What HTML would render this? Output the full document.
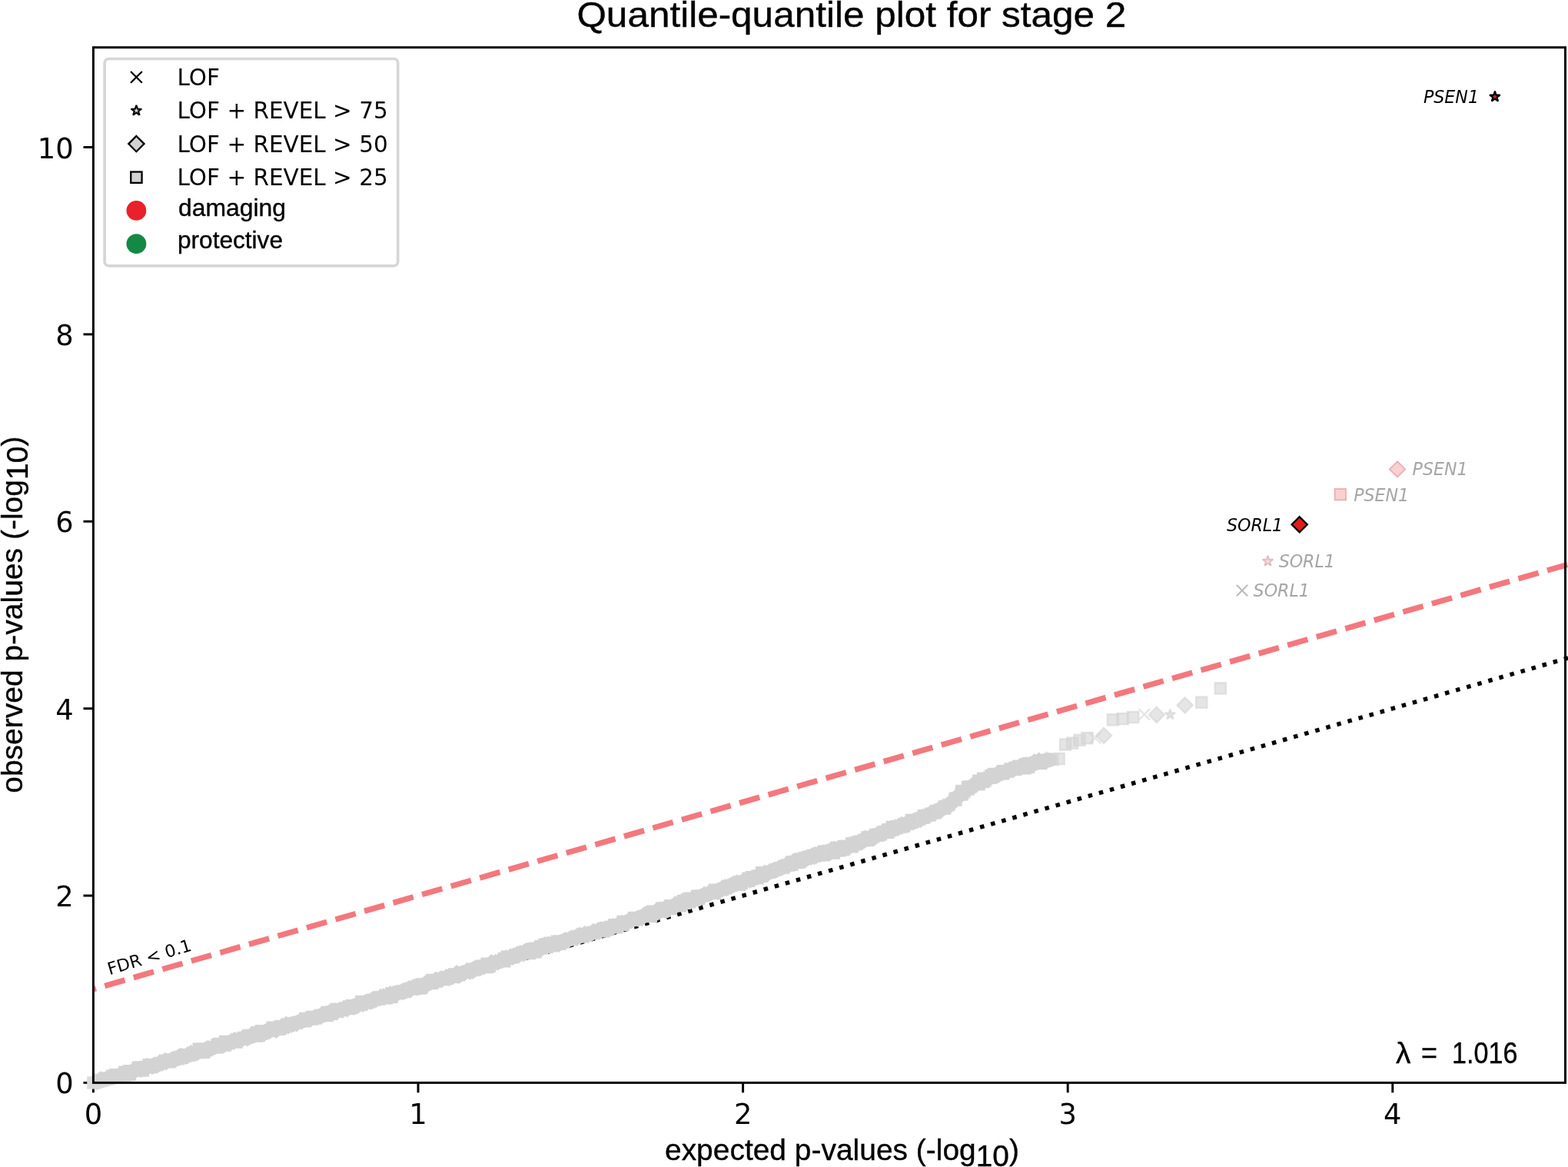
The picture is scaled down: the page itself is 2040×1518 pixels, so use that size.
<!DOCTYPE html>
<html lang="en"><head><meta charset="utf-8"><title>Quantile-quantile plot for stage 2</title>
<style>html,body{margin:0;padding:0;background:#fff;overflow:hidden}svg{display:block}</style></head>
<body>
<svg width="2040" height="1518" viewBox="0 0 2040 1518">
<rect width="2040" height="1518" fill="#fff"/>
<defs><clipPath id="axclip"><rect x="121.40" y="61.70" width="1915.10" height="1346.70"/></clipPath><clipPath id="lnclip"><rect x="121.40" y="61.70" width="1918.60" height="1346.70"/></clipPath></defs>
<line x1="121.40" y1="1408.4" x2="121.40" y2="1421.30" stroke="#000" stroke-width="2.95"/>
<text x="121.40" y="1461.5" font-family="'DejaVu Sans', 'Liberation Sans', sans-serif" font-size="36.85" text-anchor="middle">0</text>
<line x1="544.00" y1="1408.4" x2="544.00" y2="1421.30" stroke="#000" stroke-width="2.95"/>
<text x="544.00" y="1461.5" font-family="'DejaVu Sans', 'Liberation Sans', sans-serif" font-size="36.85" text-anchor="middle">1</text>
<line x1="966.60" y1="1408.4" x2="966.60" y2="1421.30" stroke="#000" stroke-width="2.95"/>
<text x="966.60" y="1461.5" font-family="'DejaVu Sans', 'Liberation Sans', sans-serif" font-size="36.85" text-anchor="middle">2</text>
<line x1="1389.20" y1="1408.4" x2="1389.20" y2="1421.30" stroke="#000" stroke-width="2.95"/>
<text x="1389.20" y="1461.5" font-family="'DejaVu Sans', 'Liberation Sans', sans-serif" font-size="36.85" text-anchor="middle">3</text>
<line x1="1811.80" y1="1408.4" x2="1811.80" y2="1421.30" stroke="#000" stroke-width="2.95"/>
<text x="1811.80" y="1461.5" font-family="'DejaVu Sans', 'Liberation Sans', sans-serif" font-size="36.85" text-anchor="middle">4</text>
<line x1="121.4" y1="1408.40" x2="108.50" y2="1408.40" stroke="#000" stroke-width="2.95"/>
<text x="95.6" y="1422.40" font-family="'DejaVu Sans', 'Liberation Sans', sans-serif" font-size="36.85" text-anchor="end">0</text>
<line x1="121.4" y1="1165.02" x2="108.50" y2="1165.02" stroke="#000" stroke-width="2.95"/>
<text x="95.6" y="1179.02" font-family="'DejaVu Sans', 'Liberation Sans', sans-serif" font-size="36.85" text-anchor="end">2</text>
<line x1="121.4" y1="921.64" x2="108.50" y2="921.64" stroke="#000" stroke-width="2.95"/>
<text x="95.6" y="935.64" font-family="'DejaVu Sans', 'Liberation Sans', sans-serif" font-size="36.85" text-anchor="end">4</text>
<line x1="121.4" y1="678.26" x2="108.50" y2="678.26" stroke="#000" stroke-width="2.95"/>
<text x="95.6" y="692.26" font-family="'DejaVu Sans', 'Liberation Sans', sans-serif" font-size="36.85" text-anchor="end">6</text>
<line x1="121.4" y1="434.88" x2="108.50" y2="434.88" stroke="#000" stroke-width="2.95"/>
<text x="95.6" y="448.88" font-family="'DejaVu Sans', 'Liberation Sans', sans-serif" font-size="36.85" text-anchor="end">8</text>
<line x1="121.4" y1="191.50" x2="108.50" y2="191.50" stroke="#000" stroke-width="2.95"/>
<text x="95.6" y="205.50" font-family="'DejaVu Sans', 'Liberation Sans', sans-serif" font-size="36.85" text-anchor="end">10</text>
<line x1="121.40" y1="1408.40" x2="2042.50" y2="855.21" stroke="#000" stroke-width="5.525" stroke-dasharray="5.525 9.116" clip-path="url(#lnclip)"/>
<line x1="121.40" y1="1286.71" x2="2042.50" y2="733.52" stroke="#f3787e" stroke-width="7.37" stroke-dasharray="27.27 11.79" stroke-dashoffset="23.6" clip-path="url(#lnclip)"/>
<clipPath id="outclip"><path clip-rule="evenodd" d="M0 0H2040V1518H0Z M121.4 61.7H2036.5V1408.4H121.4Z"/></clipPath>
<g clip-path="url(#outclip)"><path d="M121.4 1408.4 L200.0 1385.6 L350.0 1340.8 L500.0 1296.8 L650.0 1250.6 L674.0 1241.5 L740.0 1222.0 L800.0 1204.6 L880.0 1177.0 L950.0 1152.7 L1000.0 1135.0 L1050.0 1115.6 L1100.0 1102.5 L1150.0 1082.7 L1200.0 1063.7 L1222.0 1054.0 L1234.0 1047.7 L1250.0 1032.7 L1262.0 1024.0 L1275.0 1017.5 L1300.0 1006.2 L1324.0 999.0 L1350.0 991.4 L1366.0 988.5" fill="none" stroke="#dcdcdc" stroke-width="20" stroke-linejoin="round" stroke-linecap="butt"/><rect x="113.2" y="1400.2" width="16.4" height="16.4" fill="#dcdcdc"/></g>
<path d="M121.4 1408.4 L200.0 1385.6 L350.0 1340.8 L500.0 1296.8 L650.0 1250.6 L674.0 1241.5 L740.0 1222.0 L800.0 1204.6 L880.0 1177.0 L950.0 1152.7 L1000.0 1135.0 L1050.0 1115.6 L1100.0 1102.5 L1150.0 1082.7 L1200.0 1063.7 L1222.0 1054.0 L1234.0 1047.7 L1250.0 1032.7 L1262.0 1024.0 L1275.0 1017.5 L1300.0 1006.2 L1324.0 999.0 L1350.0 991.4 L1366.0 988.5" fill="none" stroke="#d3d3d3" stroke-width="18.6" stroke-linejoin="round" stroke-linecap="round" clip-path="url(#axclip)"/>
<path d="M124.0 1395.9l11.2 11.2l-11.2 11.2l-11.2 -11.2zM127.3 1396.1l10.8 10.8l-10.8 10.8l-10.8 -10.8zM131.3 1393.1l11.9 11.9l-11.9 11.9l-11.9 -11.9zM134.2 1393.9l11.5 11.5l-11.5 11.5l-11.5 -11.5zM127.9 1394.6h16.6v19.7h-16.6zM139.9 1391.8l11.6 11.6l-11.6 11.6l-11.6 -11.6zM143.2 1389.9l11.8 11.8l-11.8 11.8l-11.8 -11.8zM137.8 1391.6h16.6v20.2h-16.6zM142.1 1390.0h16.6v19.4h-16.6zM154.7 1388.6l10.9 10.9l-10.9 10.9l-10.9 -10.9zM156.8 1387.7l11.5 11.5l-11.5 11.5l-11.5 -11.5zM159.2 1386.3l11.2 11.2l-11.2 11.2l-11.2 -11.2zM154.2 1386.6h16.6v20.1h-16.6zM158.5 1386.0h16.6v20.1h-16.6zM160.5 1385.1h16.6v20.7h-16.6zM172.0 1382.5l11.7 11.7l-11.7 11.7l-11.7 -11.7zM175.2 1380.6l11.7 11.7l-11.7 11.7l-11.7 -11.7zM171.4 1380.9h16.6v19.3h-16.6zM173.3 1380.2h16.6v20.6h-16.6zM183.2 1379.1l11.6 11.6l-11.6 11.6l-11.6 -11.6zM177.4 1380.8h16.6v19.6h-16.6zM190.2 1376.6l11.5 11.5l-11.5 11.5l-11.5 -11.5zM191.8 1375.8l11.5 11.5l-11.5 11.5l-11.5 -11.5zM185.5 1376.9h16.6v19.1h-16.6zM198.2 1375.7l11.3 11.3l-11.3 11.3l-11.3 -11.3zM201.2 1374.1l11.4 11.4l-11.4 11.4l-11.4 -11.4zM204.6 1373.9l11.3 11.3l-11.3 11.3l-11.3 -11.3zM208.2 1370.7l11.9 11.9l-11.9 11.9l-11.9 -11.9zM211.3 1371.1l11.3 11.3l-11.3 11.3l-11.3 -11.3zM214.6 1368.7l11.5 11.5l-11.5 11.5l-11.5 -11.5zM216.2 1369.5l11.5 11.5l-11.5 11.5l-11.5 -11.5zM210.5 1371.3h16.6v18.3h-16.6zM212.2 1370.4h16.6v18.9h-16.6zM223.3 1367.6l11.2 11.2l-11.2 11.2l-11.2 -11.2zM225.8 1366.5l11.1 11.1l-11.1 11.1l-11.1 -11.1zM228.4 1366.3l11.4 11.4l-11.4 11.4l-11.4 -11.4zM232.1 1363.9l11.7 11.7l-11.7 11.7l-11.7 -11.7zM234.3 1363.1l11.6 11.6l-11.6 11.6l-11.6 -11.6zM236.1 1362.7l11.7 11.7l-11.7 11.7l-11.7 -11.7zM239.0 1363.6l11.2 11.2l-11.2 11.2l-11.2 -11.2zM242.4 1362.7l11.0 11.0l-11.0 11.0l-11.0 -11.0zM244.3 1360.8l11.7 11.7l-11.7 11.7l-11.7 -11.7zM248.3 1358.8l11.7 11.7l-11.7 11.7l-11.7 -11.7zM251.7 1359.9l10.9 10.9l-10.9 10.9l-10.9 -10.9zM254.1 1358.9l11.2 11.2l-11.2 11.2l-11.2 -11.2zM256.8 1356.6l11.8 11.8l-11.8 11.8l-11.8 -11.8zM250.5 1356.6h16.6v20.7h-16.6zM255.0 1356.2h16.6v20.8h-16.6zM257.1 1356.6h16.6v20.1h-16.6zM268.5 1353.6l11.1 11.1l-11.1 11.1l-11.1 -11.1zM270.2 1353.1l11.7 11.7l-11.7 11.7l-11.7 -11.7zM271.8 1353.2l11.8 11.8l-11.8 11.8l-11.8 -11.8zM276.0 1353.0l10.8 10.8l-10.8 10.8l-10.8 -10.8zM279.8 1349.5l11.5 11.5l-11.5 11.5l-11.5 -11.5zM274.5 1350.7h16.6v19.9h-16.6zM277.0 1349.8h16.6v19.5h-16.6zM289.2 1347.2l11.4 11.4l-11.4 11.4l-11.4 -11.4zM284.8 1346.7h16.6v20.8h-16.6zM297.1 1345.8l11.5 11.5l-11.5 11.5l-11.5 -11.5zM301.2 1343.3l11.1 11.1l-11.1 11.1l-11.1 -11.1zM304.2 1342.6l11.7 11.7l-11.7 11.7l-11.7 -11.7zM305.7 1342.1l10.9 10.9l-10.9 10.9l-10.9 -10.9zM299.1 1345.3h16.6v18.4h-16.6zM310.5 1341.0l11.2 11.2l-11.2 11.2l-11.2 -11.2zM313.9 1340.8l11.0 11.0l-11.0 11.0l-11.0 -11.0zM316.4 1338.4l11.6 11.6l-11.6 11.6l-11.6 -11.6zM319.0 1337.9l11.2 11.2l-11.2 11.2l-11.2 -11.2zM322.3 1338.0l11.7 11.7l-11.7 11.7l-11.7 -11.7zM325.7 1336.6l11.3 11.3l-11.3 11.3l-11.3 -11.3zM329.3 1335.5l11.3 11.3l-11.3 11.3l-11.3 -11.3zM331.5 1335.5l10.9 10.9l-10.9 10.9l-10.9 -10.9zM326.0 1334.9h16.6v20.8h-16.6zM328.6 1336.1h16.6v18.9h-16.6zM331.5 1333.0h16.6v20.1h-16.6zM344.0 1331.6l11.6 11.6l-11.6 11.6l-11.6 -11.6zM347.2 1330.0l10.8 10.8l-10.8 10.8l-10.8 -10.8zM349.1 1330.8l10.9 10.9l-10.9 10.9l-10.9 -10.9zM350.9 1330.5l10.8 10.8l-10.8 10.8l-10.8 -10.8zM346.6 1328.5h16.6v20.1h-16.6zM359.0 1327.5l11.7 11.7l-11.7 11.7l-11.7 -11.7zM360.6 1326.7l11.6 11.6l-11.6 11.6l-11.6 -11.6zM354.1 1328.5h16.6v18.4h-16.6zM356.6 1327.1h16.6v18.9h-16.6zM366.9 1323.7l11.6 11.6l-11.6 11.6l-11.6 -11.6zM369.6 1323.6l11.2 11.2l-11.2 11.2l-11.2 -11.2zM372.3 1321.5l11.9 11.9l-11.9 11.9l-11.9 -11.9zM375.1 1322.4l11.6 11.6l-11.6 11.6l-11.6 -11.6zM378.8 1321.4l11.3 11.3l-11.3 11.3l-11.3 -11.3zM382.3 1321.3l10.9 10.9l-10.9 10.9l-10.9 -10.9zM386.0 1319.9l11.3 11.3l-11.3 11.3l-11.3 -11.3zM389.7 1317.5l11.0 11.0l-11.0 11.0l-11.0 -11.0zM392.9 1316.2l11.6 11.6l-11.6 11.6l-11.6 -11.6zM389.0 1316.8h16.6v19.4h-16.6zM401.3 1314.9l11.0 11.0l-11.0 11.0l-11.0 -11.0zM402.9 1314.2l11.0 11.0l-11.0 11.0l-11.0 -11.0zM397.2 1314.8h16.6v18.6h-16.6zM410.0 1311.9l11.3 11.3l-11.3 11.3l-11.3 -11.3zM414.0 1311.4l11.3 11.3l-11.3 11.3l-11.3 -11.3zM417.6 1310.1l11.6 11.6l-11.6 11.6l-11.6 -11.6zM422.0 1308.5l11.1 11.1l-11.1 11.1l-11.1 -11.1zM417.4 1308.7h16.6v20.6h-16.6zM427.9 1306.3l11.0 11.0l-11.0 11.0l-11.0 -11.0zM423.2 1308.2h16.6v18.9h-16.6zM435.6 1303.7l11.6 11.6l-11.6 11.6l-11.6 -11.6zM429.1 1304.8h16.6v19.0h-16.6zM439.9 1303.8l10.8 10.8l-10.8 10.8l-10.8 -10.8zM442.4 1302.5l11.0 11.0l-11.0 11.0l-11.0 -11.0zM445.7 1302.3l11.4 11.4l-11.4 11.4l-11.4 -11.4zM447.5 1300.8l10.9 10.9l-10.9 10.9l-10.9 -10.9zM451.7 1300.0l11.8 11.8l-11.8 11.8l-11.8 -11.8zM446.0 1301.3h16.6v19.0h-16.6zM449.6 1300.0h16.6v18.9h-16.6zM461.6 1297.7l11.4 11.4l-11.4 11.4l-11.4 -11.4zM463.5 1295.9l11.6 11.6l-11.6 11.6l-11.6 -11.6zM467.0 1295.1l11.5 11.5l-11.5 11.5l-11.5 -11.5zM462.1 1294.8h16.6v20.0h-16.6zM472.3 1294.7l11.2 11.2l-11.2 11.2l-11.2 -11.2zM475.9 1292.6l11.5 11.5l-11.5 11.5l-11.5 -11.5zM478.8 1291.7l10.9 10.9l-10.9 10.9l-10.9 -10.9zM482.4 1290.9l11.6 11.6l-11.6 11.6l-11.6 -11.6zM485.0 1288.9l11.8 11.8l-11.8 11.8l-11.8 -11.8zM486.6 1289.1l11.6 11.6l-11.6 11.6l-11.6 -11.6zM489.2 1288.2l11.4 11.4l-11.4 11.4l-11.4 -11.4zM484.7 1289.3h16.6v18.5h-16.6zM495.3 1285.6l11.7 11.7l-11.7 11.7l-11.7 -11.7zM499.0 1285.1l11.3 11.3l-11.3 11.3l-11.3 -11.3zM494.4 1286.7h16.6v19.9h-16.6zM504.7 1283.8l11.4 11.4l-11.4 11.4l-11.4 -11.4zM507.9 1282.1l11.7 11.7l-11.7 11.7l-11.7 -11.7zM501.2 1284.1h16.6v20.9h-16.6zM512.1 1281.7l11.5 11.5l-11.5 11.5l-11.5 -11.5zM516.6 1280.4l11.7 11.7l-11.7 11.7l-11.7 -11.7zM511.2 1281.9h16.6v18.2h-16.6zM523.3 1278.6l11.4 11.4l-11.4 11.4l-11.4 -11.4zM526.2 1277.2l10.8 10.8l-10.8 10.8l-10.8 -10.8zM529.2 1276.7l11.4 11.4l-11.4 11.4l-11.4 -11.4zM533.6 1275.6l11.7 11.7l-11.7 11.7l-11.7 -11.7zM537.0 1273.4l11.1 11.1l-11.1 11.1l-11.1 -11.1zM530.4 1275.4h16.6v19.1h-16.6zM542.8 1272.3l11.7 11.7l-11.7 11.7l-11.7 -11.7zM537.8 1273.4h16.6v20.3h-16.6zM540.3 1272.2h16.6v20.6h-16.6zM551.4 1270.6l10.9 10.9l-10.9 10.9l-10.9 -10.9zM553.1 1268.5l11.0 11.0l-11.0 11.0l-11.0 -11.0zM556.1 1268.7l11.3 11.3l-11.3 11.3l-11.3 -11.3zM559.5 1266.4l11.6 11.6l-11.6 11.6l-11.6 -11.6zM553.9 1266.8h16.6v20.2h-16.6zM564.8 1265.1l11.5 11.5l-11.5 11.5l-11.5 -11.5zM567.0 1263.4l11.7 11.7l-11.7 11.7l-11.7 -11.7zM568.9 1264.5l11.0 11.0l-11.0 11.0l-11.0 -11.0zM570.9 1263.9l10.8 10.8l-10.8 10.8l-10.8 -10.8zM572.8 1262.8l10.9 10.9l-10.9 10.9l-10.9 -10.9zM574.3 1262.2l11.6 11.6l-11.6 11.6l-11.6 -11.6zM576.0 1262.4l10.8 10.8l-10.8 10.8l-10.8 -10.8zM580.4 1260.1l11.3 11.3l-11.3 11.3l-11.3 -11.3zM582.4 1260.8l10.9 10.9l-10.9 10.9l-10.9 -10.9zM584.0 1259.8l11.7 11.7l-11.7 11.7l-11.7 -11.7zM586.9 1259.9l11.1 11.1l-11.1 11.1l-11.1 -11.1zM589.2 1258.8l11.2 11.2l-11.2 11.2l-11.2 -11.2zM582.7 1259.2h16.6v19.9h-16.6zM592.5 1256.3l11.0 11.0l-11.0 11.0l-11.0 -11.0zM594.1 1255.0l11.8 11.8l-11.8 11.8l-11.8 -11.8zM596.2 1256.5l11.7 11.7l-11.7 11.7l-11.7 -11.7zM600.5 1255.7l11.1 11.1l-11.1 11.1l-11.1 -11.1zM603.8 1254.7l11.1 11.1l-11.1 11.1l-11.1 -11.1zM607.8 1251.6l11.2 11.2l-11.2 11.2l-11.2 -11.2zM611.4 1251.8l11.6 11.6l-11.6 11.6l-11.6 -11.6zM615.1 1250.3l11.8 11.8l-11.8 11.8l-11.8 -11.8zM617.7 1248.7l11.7 11.7l-11.7 11.7l-11.7 -11.7zM620.6 1247.5l11.6 11.6l-11.6 11.6l-11.6 -11.6zM623.9 1247.8l11.3 11.3l-11.3 11.3l-11.3 -11.3zM625.9 1247.2l11.3 11.3l-11.3 11.3l-11.3 -11.3zM629.7 1246.2l11.1 11.1l-11.1 11.1l-11.1 -11.1zM625.4 1245.6h16.6v20.6h-16.6zM628.3 1246.0h16.6v19.1h-16.6zM639.2 1241.1l11.9 11.9l-11.9 11.9l-11.9 -11.9zM641.0 1242.6l10.9 10.9l-10.9 10.9l-10.9 -10.9zM644.4 1240.8l11.0 11.0l-11.0 11.0l-11.0 -11.0zM647.9 1240.4l11.1 11.1l-11.1 11.1l-11.1 -11.1zM652.3 1237.9l11.3 11.3l-11.3 11.3l-11.3 -11.3zM647.8 1238.7h16.6v19.7h-16.6zM658.2 1235.1l11.7 11.7l-11.7 11.7l-11.7 -11.7zM651.7 1236.4h16.6v18.8h-16.6zM664.2 1233.3l11.0 11.0l-11.0 11.0l-11.0 -11.0zM668.2 1232.3l11.6 11.6l-11.6 11.6l-11.6 -11.6zM672.3 1230.5l11.3 11.3l-11.3 11.3l-11.3 -11.3zM674.1 1230.5l11.7 11.7l-11.7 11.7l-11.7 -11.7zM676.2 1229.3l11.6 11.6l-11.6 11.6l-11.6 -11.6zM678.0 1229.1l10.9 10.9l-10.9 10.9l-10.9 -10.9zM681.1 1228.4l11.5 11.5l-11.5 11.5l-11.5 -11.5zM684.5 1225.9l11.9 11.9l-11.9 11.9l-11.9 -11.9zM687.0 1226.5l11.0 11.0l-11.0 11.0l-11.0 -11.0zM680.7 1227.7h16.6v20.6h-16.6zM685.1 1226.2h16.6v19.7h-16.6zM687.9 1225.5h16.6v20.9h-16.6zM699.1 1222.8l11.9 11.9l-11.9 11.9l-11.9 -11.9zM695.1 1223.0h16.6v18.7h-16.6zM705.2 1221.4l11.4 11.4l-11.4 11.4l-11.4 -11.4zM700.3 1220.8h16.6v19.0h-16.6zM703.1 1220.0h16.6v20.3h-16.6zM713.7 1217.6l11.3 11.3l-11.3 11.3l-11.3 -11.3zM707.2 1218.4h16.6v20.2h-16.6zM711.6 1219.4h16.6v19.2h-16.6zM721.9 1215.6l11.4 11.4l-11.4 11.4l-11.4 -11.4zM716.7 1216.6h16.6v19.0h-16.6zM719.6 1216.9h16.6v19.0h-16.6zM730.1 1214.6l10.9 10.9l-10.9 10.9l-10.9 -10.9zM733.2 1213.2l10.9 10.9l-10.9 10.9l-10.9 -10.9zM735.3 1212.1l11.9 11.9l-11.9 11.9l-11.9 -11.9zM739.2 1212.3l11.0 11.0l-11.0 11.0l-11.0 -11.0zM740.7 1210.8l10.9 10.9l-10.9 10.9l-10.9 -10.9zM743.9 1208.9l11.1 11.1l-11.1 11.1l-11.1 -11.1zM747.8 1208.7l10.8 10.8l-10.8 10.8l-10.8 -10.8zM750.6 1207.4l11.8 11.8l-11.8 11.8l-11.8 -11.8zM754.5 1205.6l11.6 11.6l-11.6 11.6l-11.6 -11.6zM750.1 1206.8h16.6v19.7h-16.6zM760.7 1203.8l11.5 11.5l-11.5 11.5l-11.5 -11.5zM764.9 1204.1l11.5 11.5l-11.5 11.5l-11.5 -11.5zM769.2 1203.0l11.3 11.3l-11.3 11.3l-11.3 -11.3zM772.2 1200.4l11.6 11.6l-11.6 11.6l-11.6 -11.6zM776.7 1200.3l11.2 11.2l-11.2 11.2l-11.2 -11.2zM779.6 1199.3l11.9 11.9l-11.9 11.9l-11.9 -11.9zM781.5 1198.3l11.3 11.3l-11.3 11.3l-11.3 -11.3zM777.3 1199.5h16.6v19.9h-16.6zM787.2 1197.1l11.3 11.3l-11.3 11.3l-11.3 -11.3zM781.2 1198.9h16.6v18.5h-16.6zM793.0 1194.6l11.8 11.8l-11.8 11.8l-11.8 -11.8zM797.4 1193.9l11.8 11.8l-11.8 11.8l-11.8 -11.8zM791.2 1195.0h16.6v19.1h-16.6zM793.5 1195.4h16.6v19.1h-16.6zM804.4 1191.5l11.1 11.1l-11.1 11.1l-11.1 -11.1zM808.9 1189.6l11.0 11.0l-11.0 11.0l-11.0 -11.0zM802.3 1190.7h16.6v20.5h-16.6zM814.0 1189.4l11.1 11.1l-11.1 11.1l-11.1 -11.1zM818.4 1186.0l11.3 11.3l-11.3 11.3l-11.3 -11.3zM820.7 1186.5l11.1 11.1l-11.1 11.1l-11.1 -11.1zM816.8 1185.8h16.6v18.7h-16.6zM829.6 1183.8l11.0 11.0l-11.0 11.0l-11.0 -11.0zM831.2 1183.4l11.0 11.0l-11.0 11.0l-11.0 -11.0zM835.2 1181.4l11.9 11.9l-11.9 11.9l-11.9 -11.9zM838.3 1179.9l11.2 11.2l-11.2 11.2l-11.2 -11.2zM842.8 1178.4l11.0 11.0l-11.0 11.0l-11.0 -11.0zM836.3 1179.7h16.6v18.4h-16.6zM838.4 1179.0h16.6v20.9h-16.6zM840.7 1177.6h16.6v19.6h-16.6zM852.6 1174.9l11.2 11.2l-11.2 11.2l-11.2 -11.2zM856.3 1174.5l11.3 11.3l-11.3 11.3l-11.3 -11.3zM859.4 1172.3l11.7 11.7l-11.7 11.7l-11.7 -11.7zM853.2 1173.3h16.6v20.6h-16.6zM855.3 1174.4h16.6v18.7h-16.6zM865.9 1169.3l11.9 11.9l-11.9 11.9l-11.9 -11.9zM868.6 1170.9l10.8 10.8l-10.8 10.8l-10.8 -10.8zM864.4 1170.1h16.6v20.1h-16.6zM875.8 1167.7l11.4 11.4l-11.4 11.4l-11.4 -11.4zM878.6 1165.6l11.2 11.2l-11.2 11.2l-11.2 -11.2zM881.6 1165.0l11.2 11.2l-11.2 11.2l-11.2 -11.2zM876.6 1166.0h16.6v20.6h-16.6zM880.6 1164.0h16.6v19.0h-16.6zM882.5 1163.7h16.6v19.2h-16.6zM885.9 1161.8h16.6v19.5h-16.6zM888.9 1160.6h16.6v21.0h-16.6zM900.2 1159.0l10.9 10.9l-10.9 10.9l-10.9 -10.9zM894.7 1160.6h16.6v18.4h-16.6zM898.8 1157.7h16.6v19.2h-16.6zM900.9 1157.3h16.6v19.4h-16.6zM913.3 1154.8l11.1 11.1l-11.1 11.1l-11.1 -11.1zM916.3 1152.6l11.5 11.5l-11.5 11.5l-11.5 -11.5zM920.5 1152.1l11.0 11.0l-11.0 11.0l-11.0 -11.0zM923.1 1151.4l10.9 10.9l-10.9 10.9l-10.9 -10.9zM925.5 1149.3l11.4 11.4l-11.4 11.4l-11.4 -11.4zM921.5 1149.5h16.6v20.5h-16.6zM933.8 1147.7l11.6 11.6l-11.6 11.6l-11.6 -11.6zM935.7 1147.2l11.3 11.3l-11.3 11.3l-11.3 -11.3zM939.9 1144.0l11.7 11.7l-11.7 11.7l-11.7 -11.7zM943.2 1143.0l11.2 11.2l-11.2 11.2l-11.2 -11.2zM944.7 1144.2l11.1 11.1l-11.1 11.1l-11.1 -11.1zM947.3 1142.2l11.5 11.5l-11.5 11.5l-11.5 -11.5zM950.8 1140.4l11.9 11.9l-11.9 11.9l-11.9 -11.9zM954.4 1138.6l11.6 11.6l-11.6 11.6l-11.6 -11.6zM958.9 1137.3l11.3 11.3l-11.3 11.3l-11.3 -11.3zM953.3 1139.9h16.6v19.1h-16.6zM956.1 1138.4h16.6v18.8h-16.6zM967.1 1134.9l10.8 10.8l-10.8 10.8l-10.8 -10.8zM971.4 1134.3l10.9 10.9l-10.9 10.9l-10.9 -10.9zM965.3 1134.4h16.6v19.7h-16.6zM975.9 1133.2l11.4 11.4l-11.4 11.4l-11.4 -11.4zM969.7 1133.0h16.6v18.6h-16.6zM981.1 1130.3l11.6 11.6l-11.6 11.6l-11.6 -11.6zM977.1 1131.6h16.6v18.8h-16.6zM987.0 1128.4l11.0 11.0l-11.0 11.0l-11.0 -11.0zM982.9 1127.1h16.6v20.8h-16.6zM993.0 1127.4l11.0 11.0l-11.0 11.0l-11.0 -11.0zM995.1 1124.5l11.2 11.2l-11.2 11.2l-11.2 -11.2zM999.1 1124.8l11.2 11.2l-11.2 11.2l-11.2 -11.2zM1001.8 1122.5l11.1 11.1l-11.1 11.1l-11.1 -11.1zM1005.4 1121.5l11.0 11.0l-11.0 11.0l-11.0 -11.0zM1008.2 1120.4l11.6 11.6l-11.6 11.6l-11.6 -11.6zM1010.3 1120.4l11.0 11.0l-11.0 11.0l-11.0 -11.0zM1014.1 1117.8l11.5 11.5l-11.5 11.5l-11.5 -11.5zM1017.5 1116.4l11.7 11.7l-11.7 11.7l-11.7 -11.7zM1021.6 1115.5l11.1 11.1l-11.1 11.1l-11.1 -11.1zM1025.8 1113.7l11.7 11.7l-11.7 11.7l-11.7 -11.7zM1021.9 1113.2h16.6v19.6h-16.6zM1032.3 1111.4l11.6 11.6l-11.6 11.6l-11.6 -11.6zM1035.5 1108.6l11.7 11.7l-11.7 11.7l-11.7 -11.7zM1030.1 1110.4h16.6v19.5h-16.6zM1033.1 1109.7h16.6v18.8h-16.6zM1043.2 1107.7l11.1 11.1l-11.1 11.1l-11.1 -11.1zM1047.4 1105.6l11.9 11.9l-11.9 11.9l-11.9 -11.9zM1051.4 1105.0l10.8 10.8l-10.8 10.8l-10.8 -10.8zM1054.9 1103.5l11.3 11.3l-11.3 11.3l-11.3 -11.3zM1058.1 1101.5l11.4 11.4l-11.4 11.4l-11.4 -11.4zM1060.8 1100.8l11.2 11.2l-11.2 11.2l-11.2 -11.2zM1064.5 1100.1l11.0 11.0l-11.0 11.0l-11.0 -11.0zM1067.2 1100.4l10.9 10.9l-10.9 10.9l-10.9 -10.9zM1070.1 1098.7l11.0 11.0l-11.0 11.0l-11.0 -11.0zM1063.6 1099.6h16.6v20.6h-16.6zM1075.0 1097.7l11.1 11.1l-11.1 11.1l-11.1 -11.1zM1077.4 1097.5l11.8 11.8l-11.8 11.8l-11.8 -11.8zM1080.3 1095.6l11.9 11.9l-11.9 11.9l-11.9 -11.9zM1082.4 1096.2l11.0 11.0l-11.0 11.0l-11.0 -11.0zM1076.3 1097.5h16.6v20.3h-16.6zM1080.5 1094.4h16.6v20.3h-16.6zM1082.7 1095.2h16.6v19.1h-16.6zM1094.7 1092.0l11.1 11.1l-11.1 11.1l-11.1 -11.1zM1089.5 1092.7h16.6v20.3h-16.6zM1100.8 1090.9l11.7 11.7l-11.7 11.7l-11.7 -11.7zM1103.1 1090.2l11.2 11.2l-11.2 11.2l-11.2 -11.2zM1104.7 1088.9l11.0 11.0l-11.0 11.0l-11.0 -11.0zM1100.2 1088.9h16.6v20.6h-16.6zM1112.2 1086.0l11.4 11.4l-11.4 11.4l-11.4 -11.4zM1115.9 1086.2l11.0 11.0l-11.0 11.0l-11.0 -11.0zM1120.3 1083.4l11.6 11.6l-11.6 11.6l-11.6 -11.6zM1122.3 1082.3l11.5 11.5l-11.5 11.5l-11.5 -11.5zM1124.3 1080.3l11.8 11.8l-11.8 11.8l-11.8 -11.8zM1126.2 1079.4l11.7 11.7l-11.7 11.7l-11.7 -11.7zM1120.5 1081.0h16.6v19.9h-16.6zM1131.1 1079.5l11.1 11.1l-11.1 11.1l-11.1 -11.1zM1134.7 1076.7l11.4 11.4l-11.4 11.4l-11.4 -11.4zM1137.2 1077.1l11.7 11.7l-11.7 11.7l-11.7 -11.7zM1139.9 1075.8l11.5 11.5l-11.5 11.5l-11.5 -11.5zM1142.4 1073.4l11.7 11.7l-11.7 11.7l-11.7 -11.7zM1144.9 1073.2l10.9 10.9l-10.9 10.9l-10.9 -10.9zM1147.3 1072.5l11.5 11.5l-11.5 11.5l-11.5 -11.5zM1149.7 1070.6l11.2 11.2l-11.2 11.2l-11.2 -11.2zM1151.8 1070.5l11.6 11.6l-11.6 11.6l-11.6 -11.6zM1146.8 1071.3h16.6v19.7h-16.6zM1157.9 1067.6l11.7 11.7l-11.7 11.7l-11.7 -11.7zM1152.6 1067.8h16.6v19.8h-16.6zM1164.3 1065.2l11.9 11.9l-11.9 11.9l-11.9 -11.9zM1158.0 1067.0h16.6v18.5h-16.6zM1169.3 1063.5l11.8 11.8l-11.8 11.8l-11.8 -11.8zM1172.0 1062.5l10.8 10.8l-10.8 10.8l-10.8 -10.8zM1167.3 1064.6h16.6v18.3h-16.6zM1179.2 1060.1l11.1 11.1l-11.1 11.1l-11.1 -11.1zM1181.6 1059.0l10.9 10.9l-10.9 10.9l-10.9 -10.9zM1177.7 1058.7h16.6v18.7h-16.6zM1187.7 1057.3l11.6 11.6l-11.6 11.6l-11.6 -11.6zM1190.7 1056.0l11.5 11.5l-11.5 11.5l-11.5 -11.5zM1193.8 1056.2l10.9 10.9l-10.9 10.9l-10.9 -10.9zM1197.3 1054.1l11.6 11.6l-11.6 11.6l-11.6 -11.6zM1200.5 1051.8l11.5 11.5l-11.5 11.5l-11.5 -11.5zM1193.8 1052.9h16.6v18.9h-16.6zM1205.0 1049.4l11.5 11.5l-11.5 11.5l-11.5 -11.5zM1208.7 1049.8l11.0 11.0l-11.0 11.0l-11.0 -11.0zM1211.2 1046.3l11.4 11.4l-11.4 11.4l-11.4 -11.4zM1214.6 1045.8l10.9 10.9l-10.9 10.9l-10.9 -10.9zM1216.6 1044.6l11.8 11.8l-11.8 11.8l-11.8 -11.8zM1219.8 1043.8l10.8 10.8l-10.8 10.8l-10.8 -10.8zM1223.5 1042.2l11.6 11.6l-11.6 11.6l-11.6 -11.6zM1225.8 1040.4l11.0 11.0l-11.0 11.0l-11.0 -11.0zM1220.8 1041.3h16.6v18.5h-16.6zM1232.9 1036.9l11.4 11.4l-11.4 11.4l-11.4 -11.4zM1235.7 1033.9l11.5 11.5l-11.5 11.5l-11.5 -11.5zM1239.4 1031.8l11.8 11.8l-11.8 11.8l-11.8 -11.8zM1235.0 1030.2h16.6v18.6h-16.6zM1247.1 1024.8l11.5 11.5l-11.5 11.5l-11.5 -11.5zM1243.1 1020.8h16.6v20.7h-16.6zM1254.3 1017.1l11.7 11.7l-11.7 11.7l-11.7 -11.7zM1257.0 1015.4l11.8 11.8l-11.8 11.8l-11.8 -11.8zM1251.0 1015.4h16.6v19.1h-16.6zM1261.9 1014.2l10.9 10.9l-10.9 10.9l-10.9 -10.9zM1266.1 1009.6l11.8 11.8l-11.8 11.8l-11.8 -11.8zM1268.3 1010.6l11.1 11.1l-11.1 11.1l-11.1 -11.1zM1270.4 1008.6l11.2 11.2l-11.2 11.2l-11.2 -11.2zM1265.2 1007.4h16.6v20.8h-16.6zM1277.2 1006.1l11.1 11.1l-11.1 11.1l-11.1 -11.1zM1271.0 1004.4h16.6v20.7h-16.6zM1283.6 1002.5l11.3 11.3l-11.3 11.3l-11.3 -11.3zM1285.2 1002.6l11.1 11.1l-11.1 11.1l-11.1 -11.1zM1281.3 1000.7h16.6v19.1h-16.6zM1284.8 998.8h16.6v19.3h-16.6zM1295.6 997.4l11.1 11.1l-11.1 11.1l-11.1 -11.1zM1297.5 995.7l11.8 11.8l-11.8 11.8l-11.8 -11.8zM1300.0 994.5l10.9 10.9l-10.9 10.9l-10.9 -10.9zM1302.5 994.4l11.2 11.2l-11.2 11.2l-11.2 -11.2zM1296.5 995.0h16.6v19.4h-16.6zM1308.6 992.6l11.0 11.0l-11.0 11.0l-11.0 -11.0zM1312.7 991.0l11.4 11.4l-11.4 11.4l-11.4 -11.4zM1316.7 989.7l11.2 11.2l-11.2 11.2l-11.2 -11.2zM1318.3 989.5l11.3 11.3l-11.3 11.3l-11.3 -11.3zM1312.8 990.4h16.6v18.7h-16.6zM1317.2 988.4h16.6v18.7h-16.6zM1329.4 985.5l11.4 11.4l-11.4 11.4l-11.4 -11.4zM1325.2 986.5h16.6v20.9h-16.6zM1335.1 983.9l11.6 11.6l-11.6 11.6l-11.6 -11.6zM1329.7 985.0h16.6v21.0h-16.6zM1341.5 983.8l10.9 10.9l-10.9 10.9l-10.9 -10.9zM1345.7 980.1l11.7 11.7l-11.7 11.7l-11.7 -11.7zM1348.0 981.3l11.0 11.0l-11.0 11.0l-11.0 -11.0zM1351.7 978.3l11.8 11.8l-11.8 11.8l-11.8 -11.8zM1345.5 981.2h16.6v19.9h-16.6zM1357.6 979.4l11.0 11.0l-11.0 11.0l-11.0 -11.0zM1360.7 979.0l11.4 11.4l-11.4 11.4l-11.4 -11.4z" fill="#d3d3d3" clip-path="url(#axclip)"/>
<g fill="#d3d3d3" stroke="#d3d3d3" fill-opacity="0.6" stroke-opacity="0.6" stroke-width="2.3">
<path d="M1025.3 1116.1L1035.4 1126.3L1025.3 1136.4L1015.2 1126.3Z"/>
<path d="M1019.4 1117.9L1033.7 1132.2M1019.4 1132.2L1033.7 1117.9" fill="none"/>
<rect x="1020.6" y="1117.8" width="14.3" height="14.3"/>
<rect x="1021.9" y="1116.3" width="14.3" height="14.3"/>
<rect x="1023.1" y="1117.1" width="14.3" height="14.3"/>
<rect x="1024.4" y="1114.5" width="14.3" height="14.3"/>
<path d="M1025.6 1114.9L1039.9 1129.2M1025.6 1129.2L1039.9 1114.9" fill="none"/>
<rect x="1026.9" y="1113.6" width="14.3" height="14.3"/>
<path d="M1028.2 1113.1L1042.5 1127.4M1028.2 1127.4L1042.5 1113.1" fill="none"/>
<rect x="1029.5" y="1114.7" width="14.3" height="14.3"/>
<rect x="1030.8" y="1113.3" width="14.3" height="14.3"/>
<path d="M1032.1 1111.5L1046.4 1125.8M1032.1 1125.8L1046.4 1111.5" fill="none"/>
<rect x="1033.5" y="1111.0" width="14.3" height="14.3"/>
<rect x="1034.8" y="1111.1" width="14.3" height="14.3"/>
<rect x="1036.1" y="1111.2" width="14.3" height="14.3"/>
<path d="M1044.6 1107.7L1054.8 1117.8L1044.6 1127.9L1034.5 1117.8Z"/>
<rect x="1038.9" y="1109.0" width="14.3" height="14.3"/>
<rect x="1040.2" y="1109.2" width="14.3" height="14.3"/>
<rect x="1041.6" y="1109.1" width="14.3" height="14.3"/>
<rect x="1043.0" y="1108.4" width="14.3" height="14.3"/>
<path d="M1044.4 1108.7L1058.7 1123.0M1044.4 1123.0L1058.7 1108.7" fill="none"/>
<polygon points="1052.99,1107.87 1051.38,1112.81 1046.19,1112.81 1050.39,1115.87 1048.78,1120.81 1052.99,1117.75 1057.19,1120.81 1055.58,1115.87 1059.79,1112.81 1054.59,1112.81" stroke-miterlimit="3"/>
<polygon points="1054.41,1106.96 1052.81,1111.90 1047.61,1111.90 1051.82,1114.96 1050.21,1119.90 1054.41,1116.84 1058.62,1119.90 1057.01,1114.96 1061.21,1111.90 1056.02,1111.90" stroke-miterlimit="3"/>
<rect x="1048.7" y="1107.6" width="14.3" height="14.3"/>
<rect x="1050.2" y="1105.5" width="14.3" height="14.3"/>
<path d="M1058.8 1103.3L1068.9 1113.4L1058.8 1123.5L1048.7 1113.4Z"/>
<path d="M1060.2 1103.4L1070.4 1113.5L1060.2 1123.6L1050.1 1113.5Z"/>
<path d="M1061.7 1102.7L1071.8 1112.8L1061.7 1122.9L1051.6 1112.8Z"/>
<rect x="1056.1" y="1104.1" width="14.3" height="14.3"/>
<path d="M1057.6 1103.8L1071.9 1118.1M1057.6 1118.1L1071.9 1103.8" fill="none"/>
<path d="M1066.3 1100.4L1076.4 1110.5L1066.3 1120.6L1056.1 1110.5Z"/>
<polygon points="1067.79,1103.60 1066.19,1108.54 1060.99,1108.54 1065.20,1111.59 1063.59,1116.53 1067.79,1113.48 1072.00,1116.53 1070.39,1111.59 1074.59,1108.54 1069.40,1108.54" stroke-miterlimit="3"/>
<rect x="1062.2" y="1104.0" width="14.3" height="14.3"/>
<path d="M1070.9 1099.6L1081.0 1109.7L1070.9 1119.9L1060.8 1109.7Z"/>
<path d="M1072.5 1099.8L1082.6 1109.9L1072.5 1120.0L1062.4 1109.9Z"/>
<polygon points="1074.07,1101.11 1072.46,1106.05 1067.27,1106.05 1071.47,1109.10 1069.87,1114.04 1074.07,1110.99 1078.27,1114.04 1076.67,1109.10 1080.87,1106.05 1075.68,1106.05" stroke-miterlimit="3"/>
<rect x="1068.5" y="1102.8" width="14.3" height="14.3"/>
<polygon points="1077.29,1101.77 1075.68,1106.71 1070.49,1106.71 1074.69,1109.77 1073.09,1114.71 1077.29,1111.65 1081.49,1114.71 1079.89,1109.77 1084.09,1106.71 1078.90,1106.71" stroke-miterlimit="3"/>
<rect x="1071.8" y="1099.8" width="14.3" height="14.3"/>
<path d="M1080.6 1097.8L1090.7 1107.9L1080.6 1118.1L1070.5 1107.9Z"/>
<polygon points="1082.23,1099.49 1080.62,1104.43 1075.43,1104.43 1079.63,1107.48 1078.03,1112.42 1082.23,1109.37 1086.43,1112.42 1084.83,1107.48 1089.03,1104.43 1083.83,1104.43" stroke-miterlimit="3"/>
<path d="M1076.8 1100.5L1091.1 1114.8M1076.8 1114.8L1091.1 1100.5" fill="none"/>
<path d="M1085.6 1095.0L1095.7 1105.1L1085.6 1115.2L1075.5 1105.1Z"/>
<polygon points="1087.30,1098.33 1085.70,1103.27 1080.50,1103.27 1084.71,1106.32 1083.10,1111.26 1087.30,1108.21 1091.51,1111.26 1089.90,1106.32 1094.10,1103.27 1088.91,1103.27" stroke-miterlimit="3"/>
<rect x="1081.9" y="1098.2" width="14.3" height="14.3"/>
<rect x="1083.6" y="1098.4" width="14.3" height="14.3"/>
<rect x="1085.4" y="1097.9" width="14.3" height="14.3"/>
<path d="M1087.1 1096.6L1101.4 1110.9M1087.1 1110.9L1101.4 1096.6" fill="none"/>
<polygon points="1096.09,1095.37 1094.48,1100.31 1089.29,1100.31 1093.49,1103.36 1091.88,1108.30 1096.09,1105.25 1100.29,1108.30 1098.68,1103.36 1102.89,1100.31 1097.69,1100.31" stroke-miterlimit="3"/>
<polygon points="1097.89,1095.67 1096.29,1100.61 1091.09,1100.61 1095.30,1103.66 1093.69,1108.60 1097.89,1105.55 1102.10,1108.60 1100.49,1103.66 1104.69,1100.61 1099.50,1100.61" stroke-miterlimit="3"/>
<path d="M1099.7 1093.4L1109.8 1103.5L1099.7 1113.6L1089.6 1103.5Z"/>
<path d="M1094.4 1095.6L1108.7 1109.9M1094.4 1109.9L1108.7 1095.6" fill="none"/>
<path d="M1103.4 1091.5L1113.5 1101.6L1103.4 1111.7L1093.3 1101.6Z"/>
<path d="M1105.3 1090.7L1115.4 1100.8L1105.3 1110.9L1095.2 1100.8Z"/>
<path d="M1100.1 1093.6L1114.4 1107.9M1100.1 1107.9L1114.4 1093.6" fill="none"/>
<rect x="1102.0" y="1090.7" width="14.3" height="14.3"/>
<rect x="1103.9" y="1090.3" width="14.3" height="14.3"/>
<rect x="1105.9" y="1089.0" width="14.3" height="14.3"/>
<rect x="1107.9" y="1088.8" width="14.3" height="14.3"/>
<rect x="1109.9" y="1087.8" width="14.3" height="14.3"/>
<path d="M1119.1 1085.1L1129.2 1095.2L1119.1 1105.3L1108.9 1095.2Z"/>
<path d="M1121.1 1085.1L1131.2 1095.2L1121.1 1105.3L1111.0 1095.2Z"/>
<rect x="1116.0" y="1086.1" width="14.3" height="14.3"/>
<path d="M1118.1 1085.1L1132.4 1099.4M1118.1 1099.4L1132.4 1085.1" fill="none"/>
<path d="M1120.3 1083.5L1134.6 1097.8M1120.3 1097.8L1134.6 1083.5" fill="none"/>
<path d="M1122.4 1082.6L1136.7 1096.9M1122.4 1096.9L1136.7 1082.6" fill="none"/>
<rect x="1124.6" y="1084.0" width="14.3" height="14.3"/>
<polygon points="1133.92,1081.11 1132.31,1086.05 1127.12,1086.05 1131.32,1089.10 1129.72,1094.04 1133.92,1090.99 1138.12,1094.04 1136.52,1089.10 1140.72,1086.05 1135.52,1086.05" stroke-miterlimit="3"/>
<path d="M1136.1 1078.3L1146.3 1088.4L1136.1 1098.5L1126.0 1088.4Z"/>
<rect x="1131.2" y="1078.9" width="14.3" height="14.3"/>
<rect x="1133.5" y="1079.3" width="14.3" height="14.3"/>
<path d="M1143.0 1075.6L1153.1 1085.8L1143.0 1095.9L1132.9 1085.8Z"/>
<rect x="1138.2" y="1078.3" width="14.3" height="14.3"/>
<path d="M1140.5 1075.6L1154.8 1089.9M1140.5 1089.9L1154.8 1075.6" fill="none"/>
<path d="M1150.1 1073.6L1160.2 1083.8L1150.1 1093.9L1140.0 1083.8Z"/>
<path d="M1152.5 1071.6L1162.6 1081.7L1152.5 1091.8L1142.4 1081.7Z"/>
<rect x="1147.8" y="1074.5" width="14.3" height="14.3"/>
<polygon points="1157.48,1072.66 1155.88,1077.60 1150.68,1077.60 1154.88,1080.65 1153.28,1085.59 1157.48,1082.54 1161.68,1085.59 1160.08,1080.65 1164.28,1077.60 1159.09,1077.60" stroke-miterlimit="3"/>
<path d="M1160.0 1067.8L1170.1 1077.9L1160.0 1088.0L1149.9 1077.9Z"/>
<rect x="1155.4" y="1071.4" width="14.3" height="14.3"/>
<path d="M1165.2 1066.8L1175.3 1076.9L1165.2 1087.0L1155.1 1076.9Z"/>
<rect x="1160.7" y="1068.8" width="14.3" height="14.3"/>
<rect x="1163.4" y="1068.8" width="14.3" height="14.3"/>
<path d="M1173.2 1062.9L1183.3 1073.0L1173.2 1083.1L1163.1 1073.0Z"/>
<rect x="1168.8" y="1066.3" width="14.3" height="14.3"/>
<path d="M1178.8 1062.8L1188.9 1072.9L1178.8 1083.0L1168.7 1072.9Z"/>
<rect x="1174.5" y="1064.0" width="14.3" height="14.3"/>
<path d="M1184.5 1059.5L1194.6 1069.6L1184.5 1079.7L1174.4 1069.6Z"/>
<rect x="1180.3" y="1061.0" width="14.3" height="14.3"/>
<rect x="1183.3" y="1060.3" width="14.3" height="14.3"/>
<path d="M1193.5 1056.4L1203.6 1066.5L1193.5 1076.6L1183.4 1066.5Z"/>
<rect x="1189.4" y="1058.6" width="14.3" height="14.3"/>
<path d="M1192.5 1057.2L1206.8 1071.5M1192.5 1071.5L1206.8 1057.2" fill="none"/>
<rect x="1195.7" y="1054.6" width="14.3" height="14.3"/>
<polygon points="1206.14,1053.50 1204.53,1058.44 1199.34,1058.44 1203.54,1061.49 1201.93,1066.43 1206.14,1063.38 1210.34,1066.43 1208.73,1061.49 1212.94,1058.44 1207.74,1058.44" stroke-miterlimit="3"/>
<rect x="1202.3" y="1053.6" width="14.3" height="14.3"/>
<path d="M1212.8 1047.9L1222.9 1058.0L1212.8 1068.1L1202.7 1058.0Z"/>
<rect x="1209.1" y="1049.9" width="14.3" height="14.3"/>
<path d="M1219.7 1044.8L1229.8 1054.9L1219.7 1065.0L1209.6 1054.9Z"/>
<path d="M1223.3 1044.3L1233.4 1054.4L1223.3 1064.5L1213.2 1054.4Z"/>
<path d="M1226.9 1040.3L1237.0 1050.4L1226.9 1060.5L1216.8 1050.4Z"/>
<rect x="1223.5" y="1041.7" width="14.3" height="14.3"/>
<rect x="1227.3" y="1039.8" width="14.3" height="14.3"/>
<polygon points="1238.29,1036.82 1236.69,1041.76 1231.49,1041.76 1235.69,1044.82 1234.09,1049.76 1238.29,1046.70 1242.49,1049.76 1240.89,1044.82 1245.09,1041.76 1239.90,1041.76" stroke-miterlimit="3"/>
<rect x="1235.1" y="1032.8" width="14.3" height="14.3"/>
<path d="M1246.3 1026.8L1256.4 1036.9L1246.3 1047.0L1236.2 1036.9Z"/>
<rect x="1243.2" y="1026.1" width="14.3" height="14.3"/>
<rect x="1247.5" y="1023.2" width="14.3" height="14.3"/>
<rect x="1251.8" y="1019.0" width="14.3" height="14.3"/>
<rect x="1256.2" y="1016.0" width="14.3" height="14.3"/>
<path d="M1267.9 1010.0L1278.0 1020.1L1267.9 1030.2L1257.8 1020.1Z"/>
<path d="M1265.4 1011.5L1279.7 1025.8M1265.4 1025.8L1279.7 1011.5" fill="none"/>
<rect x="1270.2" y="1009.8" width="14.3" height="14.3"/>
<rect x="1275.0" y="1008.3" width="14.3" height="14.3"/>
<rect x="1280.1" y="1004.0" width="14.3" height="14.3"/>
<polygon points="1292.40,1003.22 1290.79,1008.16 1285.60,1008.16 1289.80,1011.22 1288.19,1016.16 1292.40,1013.10 1296.60,1016.16 1294.99,1011.22 1299.20,1008.16 1294.00,1008.16" stroke-miterlimit="3"/>
<rect x="1290.6" y="1000.3" width="14.3" height="14.3"/>
<polygon points="1303.20,998.47 1301.59,1003.41 1296.40,1003.41 1300.60,1006.46 1298.99,1011.40 1303.20,1008.35 1307.40,1011.40 1305.79,1006.46 1310.00,1003.41 1304.80,1003.41" stroke-miterlimit="3"/>
<path d="M1308.8 992.6L1319.0 1002.7L1308.8 1012.8L1298.7 1002.7Z"/>
<rect x="1307.5" y="993.5" width="14.3" height="14.3"/>
<rect x="1313.5" y="992.9" width="14.3" height="14.3"/>
<rect x="1319.8" y="990.8" width="14.3" height="14.3"/>
<rect x="1326.2" y="989.9" width="14.3" height="14.3"/>
<rect x="1332.9" y="986.0" width="14.3" height="14.3"/>
<rect x="1339.8" y="984.6" width="14.3" height="14.3"/>
<rect x="1347.0" y="984.1" width="14.3" height="14.3"/>
<path d="M1361.6 978.6L1371.8 988.7L1361.6 998.8L1351.5 988.7Z"/>
<rect x="1362.3" y="980.9" width="14.3" height="14.3"/>
<rect x="1370.5" y="979.8" width="14.3" height="14.3"/>
<rect x="1379.0" y="961.4" width="14.3" height="14.3"/>
<rect x="1388.0" y="959.4" width="14.3" height="14.3"/>
<rect x="1397.4" y="955.6" width="14.3" height="14.3"/>
<rect x="1407.3" y="952.9" width="14.3" height="14.3"/>
<path d="M1417.8 952.9L1432.1 967.1M1417.8 967.1L1432.1 952.9" fill="none"/>
<path d="M1436.1 946.7L1446.2 956.8L1436.1 966.9L1425.9 956.8Z"/>
<rect x="1440.8" y="929.1" width="14.3" height="14.3"/>
<rect x="1453.4" y="927.9" width="14.3" height="14.3"/>
<rect x="1467.0" y="925.8" width="14.3" height="14.3"/>
<path d="M1481.7 922.1L1496.0 936.4M1481.7 936.4L1496.0 922.1" fill="none"/>
<path d="M1504.8 919.7L1514.9 929.8L1504.8 939.9L1494.7 929.8Z"/>
<polygon points="1522.32,922.35 1520.72,927.29 1515.52,927.29 1519.72,930.34 1518.12,935.28 1522.32,932.23 1526.52,935.28 1524.92,930.34 1529.12,927.29 1523.93,927.29" stroke-miterlimit="3"/>
<path d="M1541.7 907.2L1551.8 917.3L1541.7 927.4L1531.5 917.3Z"/>
<rect x="1556.1" y="906.5" width="14.3" height="14.3"/>
<rect x="1580.6" y="888.2" width="14.3" height="14.3"/>
</g>
<path d="M1608.85 760.95L1623.15 775.25M1608.85 775.25L1623.15 760.95" fill="none" stroke="#b8b8b8" stroke-width="1.9" opacity="1"/>
<polygon points="1649.50,722.85 1647.89,727.79 1642.70,727.79 1646.90,730.84 1645.30,735.78 1649.50,732.73 1653.70,735.78 1652.10,730.84 1656.30,727.79 1651.11,727.79" fill="#f8dcde" stroke="#e0bcc1" stroke-width="1.9" stroke-linejoin="miter" stroke-miterlimit="3" opacity="1"/>
<rect x="1736.65" y="636.05" width="14.30" height="14.30" fill="#fbd0d0" stroke="#e6b2b6" stroke-width="1.9" opacity="1"/>
<polygon points="1818.00,600.29 1828.11,610.40 1818.00,620.51 1807.89,610.40" fill="#fbd0d0" stroke="#e6b2b6" stroke-width="1.9" stroke-linejoin="miter" opacity="1"/>
<polygon points="1690.70,672.19 1700.81,682.30 1690.70,692.41 1680.59,682.30" fill="#e41a1c" stroke="#000" stroke-width="2.3" stroke-linejoin="miter" opacity="1"/>
<polygon points="1944.90,118.65 1943.29,123.59 1938.10,123.59 1942.30,126.64 1940.70,131.58 1944.90,128.53 1949.10,131.58 1947.50,126.64 1951.70,123.59 1946.51,123.59" fill="#c4283c" stroke="#000" stroke-width="2.1" stroke-linejoin="miter" stroke-miterlimit="3" opacity="1"/>
<text x="1852.0" y="134" font-family="'DejaVu Sans', 'Liberation Sans', sans-serif" font-style="italic" font-size="22.11" fill="#000">PSEN1</text>
<text x="1837.6" y="617.7" font-family="'DejaVu Sans', 'Liberation Sans', sans-serif" font-style="italic" font-size="22.11" fill="#a6a6a6">PSEN1</text>
<text x="1761.2" y="651.9" font-family="'DejaVu Sans', 'Liberation Sans', sans-serif" font-style="italic" font-size="22.11" fill="#a6a6a6">PSEN1</text>
<text x="1596.0" y="690.5" font-family="'DejaVu Sans', 'Liberation Sans', sans-serif" font-style="italic" font-size="22.11" fill="#000">SORL1</text>
<text x="1663.7" y="737.7" font-family="'DejaVu Sans', 'Liberation Sans', sans-serif" font-style="italic" font-size="22.11" fill="#a6a6a6">SORL1</text>
<text x="1630.6" y="776" font-family="'DejaVu Sans', 'Liberation Sans', sans-serif" font-style="italic" font-size="22.11" fill="#a6a6a6">SORL1</text>
<rect x="121.4" y="61.7" width="1915.1" height="1346.7" fill="none" stroke="#000" stroke-width="2.95"/>
<text id="title" x="750.40" y="34.8" font-family="'Liberation Sans', sans-serif" font-size="45.81" textLength="715.00" lengthAdjust="spacingAndGlyphs" stroke="#000" stroke-width="0.35">Quantile-quantile plot for stage 2</text>
<text id="xlabel" x="865.00" y="1509.1" font-family="'Liberation Sans', sans-serif" font-size="38.18" textLength="461.00" lengthAdjust="spacingAndGlyphs" stroke="#000" stroke-width="0.35">expected p-values (-log<tspan dy="7.5">10</tspan><tspan dy="-7.5">)</tspan></text>
<g transform="translate(28.8,1031) rotate(-90)"><text id="ylabel" x="-0.80" y="0" font-family="'Liberation Sans', sans-serif" font-size="38.18" textLength="464.20" lengthAdjust="spacingAndGlyphs" stroke="#000" stroke-width="0.35">observed p-values (-log<tspan dy="7.3">10</tspan><tspan dy="-7.3">)</tspan></text></g>
<text id="lam1" x="1816.00" y="1383.4" font-family="'Liberation Sans', sans-serif" font-size="38.18" textLength="19.50" lengthAdjust="spacingAndGlyphs" stroke="#000" stroke-width="0.35">λ</text>
<text id="lam2" x="1849.00" y="1383.4" font-family="'Liberation Sans', sans-serif" font-size="38.18" textLength="21.00" lengthAdjust="spacingAndGlyphs" stroke="#000" stroke-width="0.35">=</text>
<text id="lam3" x="1889.00" y="1383.4" font-family="'Liberation Sans', sans-serif" font-size="38.18" textLength="85.50" lengthAdjust="spacingAndGlyphs" stroke="#000" stroke-width="0.35">1.016</text>
<text transform="translate(142.4,1268.3) rotate(-16.5)" font-family="'DejaVu Sans', 'Liberation Sans', sans-serif" font-size="22.11">FDR &lt; 0.1</text>
<rect x="136.1" y="76.5" width="381.6" height="269.3" rx="5.5" ry="5.5" fill="#fff" fill-opacity="0.8" stroke="#d6d6d6" stroke-width="3.69"/>
<path d="M170.00 93.00L184.80 107.80M170.00 107.80L184.80 93.00" fill="none" stroke="#000" stroke-width="2.2" opacity="1"/>
<polygon points="177.40,136.75 175.79,141.69 170.60,141.69 174.80,144.74 173.20,149.68 177.40,146.63 181.60,149.68 180.00,144.74 184.20,141.69 179.01,141.69" fill="#d3d3d3" stroke="#000" stroke-width="2.1" stroke-linejoin="miter" stroke-miterlimit="3" opacity="1"/>
<polygon points="177.40,176.99 187.51,187.10 177.40,197.21 167.29,187.10" fill="#d3d3d3" stroke="#000" stroke-width="2.3" stroke-linejoin="miter" opacity="1"/>
<rect x="170.25" y="223.55" width="14.30" height="14.30" fill="#d3d3d3" stroke="#000" stroke-width="2.3" opacity="1"/>
<circle cx="177.4" cy="273.9" r="12.9" fill="#e9212a"/>
<circle cx="177.4" cy="317.2" r="12.9" fill="#148944"/>
<text x="230.5" y="110.5" font-family="'DejaVu Sans', 'Liberation Sans', sans-serif" font-size="29.48">LOF</text>
<text x="230.5" y="154" font-family="'DejaVu Sans', 'Liberation Sans', sans-serif" font-size="29.48">LOF + REVEL &gt; 75</text>
<text x="230.5" y="197.5" font-family="'DejaVu Sans', 'Liberation Sans', sans-serif" font-size="29.48">LOF + REVEL &gt; 50</text>
<text x="230.5" y="240.6" font-family="'DejaVu Sans', 'Liberation Sans', sans-serif" font-size="29.48">LOF + REVEL &gt; 25</text>
<text id="dam" x="232.00" y="280.6" font-family="'Liberation Sans', sans-serif" font-size="30.54" textLength="140.00" lengthAdjust="spacingAndGlyphs" stroke="#000" stroke-width="0.35">damaging</text>
<text id="pro" x="231.00" y="323.1" font-family="'Liberation Sans', sans-serif" font-size="30.54" textLength="137.00" lengthAdjust="spacingAndGlyphs" stroke="#000" stroke-width="0.35">protective</text>
</svg>
</body></html>
